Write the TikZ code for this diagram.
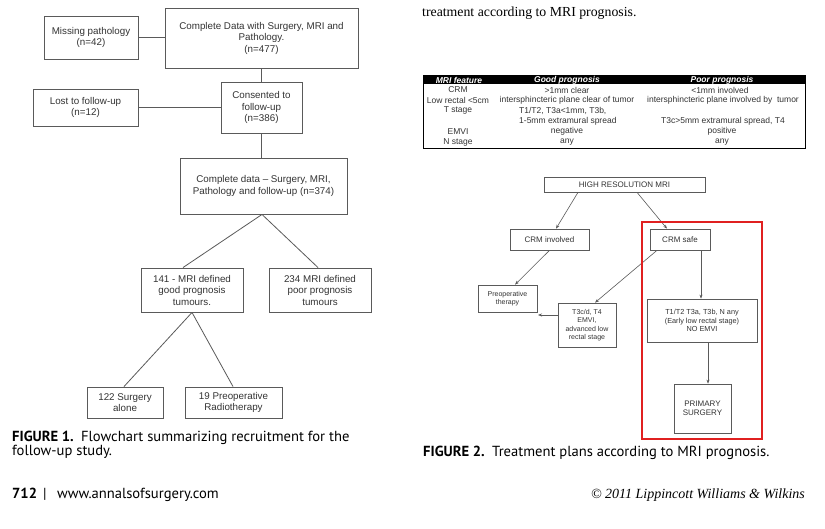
\documentclass[tikz,border=0pt]{standalone}
\usepackage{fontspec}
\setmainfont{Liberation Sans}
\newfontfamily\capfont{PT Sans}
\newfontfamily\serfont{Liberation Serif}
\usetikzlibrary{arrows.meta}
\definecolor{linegray}{HTML}{5A5A5A}
\definecolor{txtgray}{HTML}{333333}
\definecolor{framered}{HTML}{E02020}
\begin{document}
\begin{tikzpicture}[x=1pt,y=-1pt,
  boxA/.style={draw=linegray, line width=0.9pt, inner sep=0pt, align=center, text=txtgray,
    font=\fontsize{9.8}{11.5}\selectfont},
  boxB/.style={draw=linegray, line width=0.7pt, inner sep=0pt, align=center, text=txtgray,
    font=\fontsize{8}{9}\selectfont},
  linkA/.style={draw=linegray, line width=0.8pt},
  linkB/.style={draw=linegray, line width=0.6pt, -{Stealth[length=4pt,width=3pt]}},
  tabtxt/.style={inner sep=0pt, text=txtgray, font=\fontsize{8.5}{10}\selectfont},
  tabhead/.style={inner sep=0pt, text=white, font=\fontsize{8.5}{10}\selectfont\bfseries\itshape},
  captxt/.style={inner sep=0pt, anchor=base west, text=black, font=\capfont\fontsize{14.6}{17}\selectfont},
]
\useasboundingbox[fill=white] (0,0) rectangle (825,529);

% ---------- Figure 1 ----------
\node[boxA, minimum width=94, minimum height=43] (miss) at (91,37.5) {Missing pathology\\(n=42)};
\node[boxA, minimum width=193, minimum height=60] (comp) at (261.5,38) {Complete Data with Surgery, MRI and\\Pathology.\\(n=477)};
\node[boxA, minimum width=81, minimum height=51] (cons) at (261.5,107.5) {Consented to\\follow-up\\(n=386)};
\node[boxA, minimum width=105, minimum height=37] (lost) at (85.5,107.5) {Lost to follow-up\\(n=12)};
\node[boxA, minimum width=167, minimum height=56] (full) at (263.5,186) {Complete data -- Surgery, MRI,\\Pathology and follow-up (n=374)};
\node[boxA, minimum width=102, minimum height=44] (good) at (192,290) {141 - MRI defined\\good prognosis\\tumours.};
\node[boxA, minimum width=102, minimum height=44] (poor) at (320,290) {234 MRI defined\\poor prognosis\\tumours};
\node[boxA, minimum width=76, minimum height=31] (surg) at (125,402.5) {122 Surgery\\alone};
\node[boxA, minimum width=97, minimum height=31] (radio) at (233.5,402.5) {19 Preoperative\\Radiotherapy};

\draw[linkA] (miss.east) -- (miss.east -| comp.west);
\draw[linkA] (comp.south) -- (comp.south |- cons.north);
\draw[linkA] (lost.east) -- (lost.east -| cons.west);
\draw[linkA] (cons.south) -- (cons.south |- full.north);
\draw[linkA] ([xshift=-1.5pt]full.south) -- ([xshift=-9pt]good.north);
\draw[linkA] ([xshift=-1.5pt]full.south) -- ([xshift=-2pt]poor.north);
\draw[linkA] (good.south) -- ([xshift=-1pt]surg.north);
\draw[linkA] (good.south) -- ([xshift=-0.5pt]radio.north);

\node[captxt] (cap1a) at (12,441) {\bfseries FIGURE 1.\ \ \mdseries Flowchart summarizing recruitment for the};
\node[captxt] (cap1b) at (12,455.5) {follow-up study.};

% ---------- top text ----------
\node[inner sep=0pt, anchor=base west, font=\serfont\fontsize{13.8}{16}\selectfont] (toptxt) at (422,17) {treatment according to MRI prognosis.};

% ---------- Table ----------
\fill[black] (423,75) rectangle (805,84.5);
\draw[black, line width=0.8pt] (423,75) rectangle (805,148);
\node[tabhead] (h1) at (459,80) {MRI feature};
\node[tabhead] (h2) at (567,80) {Good prognosis};
\node[tabhead] (h3) at (722,80) {Poor prognosis};
\node[tabtxt] (r1a) at (458,90) {CRM};
\node[tabtxt] (r1b) at (567,90) {>1mm clear};
\node[tabtxt] (r1c) at (720,90) {<1mm involved};
\node[tabtxt] (r2a) at (458,100.5) {Low rectal <5cm};
\node[tabtxt] (r2b) at (567,100.5) {intersphincteric plane clear of tumor};
\node[tabtxt] (r2c) at (723,100.5) {intersphincteric plane involved by\ \ tumor};
\node[tabtxt] (r3a) at (458,110.5) {T stage};
\node[tabtxt, anchor=west] (r3b) at (519,110.5) {T1/T2, T3a<1mm, T3b,};
\node[tabtxt, anchor=west] (r4b) at (519,121) {1-5mm extramural spread};
\node[tabtxt] (r4c) at (723,121) {T3c>5mm extramural spread, T4};
\node[tabtxt] (r5a) at (458,131.5) {EMVI};
\node[tabtxt] (r5b) at (567,131.5) {negative};
\node[tabtxt] (r5c) at (722,131.5) {positive};
\node[tabtxt] (r6a) at (458,142) {N stage};
\node[tabtxt] (r6b) at (567,142) {any};
\node[tabtxt] (r6c) at (722,142) {any};

% ---------- Figure 2 ----------
\node[boxB, minimum width=161, minimum height=15] (hrm) at (624.5,184.5) {HIGH RESOLUTION MRI};
\node[boxB, minimum width=79, minimum height=21] (inv) at (549.5,239.5) {CRM involved};
\node[boxB, minimum width=60, minimum height=21] (safe) at (680,239.5) {CRM safe};
\node[boxB, minimum width=59, minimum height=27, font=\fontsize{7}{8.5}\selectfont] (preop) at (507.5,298.5) {Preoperative\\therapy};
\node[boxB, minimum width=58, minimum height=44, font=\fontsize{7}{8.5}\selectfont] (t3) at (587,325) {T3c/d, T4\\EMVI,\\advanced low\\rectal stage};
\node[boxB, minimum width=110, minimum height=43, font=\fontsize{7.3}{8.7}\selectfont] (t12) at (702,320.5) {T1/T2 T3a, T3b, N any\\(Early low rectal stage)\\NO EMVI};
\node[boxB, minimum width=57, minimum height=49] (prim) at (702.5,408.5) {PRIMARY\\SURGERY};
\coordinate (leftend) at (538,315);

\draw[linkB] ([xshift=-46.5pt]hrm.south) -- ([xshift=6.5pt]inv.north);
\draw[linkB] ([xshift=12.5pt]hrm.south) -- ([xshift=-13pt]safe.north);
\draw[linkB] (inv.south) -- ([xshift=7.5pt]preop.north);
\draw[linkB] ([xshift=-23pt]safe.south) -- ([xshift=8pt]t3.north);
\draw[linkB] ([xshift=21pt]safe.south) -- ([xshift=21pt]safe.south |- t12.north);
\draw[linkB] ([xshift=6pt]t12.south) -- ([xshift=6pt]t12.south |- prim.north);
\draw[linkB] (t3.west |- leftend) -- (leftend);

\draw[framered, line width=2pt] (642,222) rectangle (762,439);

\node[captxt] (cap2) at (423,456) {\bfseries FIGURE 2.\ \ \mdseries Treatment plans according to MRI prognosis.};

% ---------- footer ----------
\node[captxt] (foot1a) at (12,498) {\bfseries 712};
\node[captxt] (foot1b) at (43,498) {|};
\node[captxt] (foot1c) at (57,498) {www.annalsofsurgery.com};
\node[inner sep=0pt, anchor=base east, font=\serfont\itshape\fontsize{14}{16}\selectfont] (foot2) at (805,498) {\textcopyright\ 2011 Lippincott Williams \& Wilkins};
\end{tikzpicture}
\end{document}
